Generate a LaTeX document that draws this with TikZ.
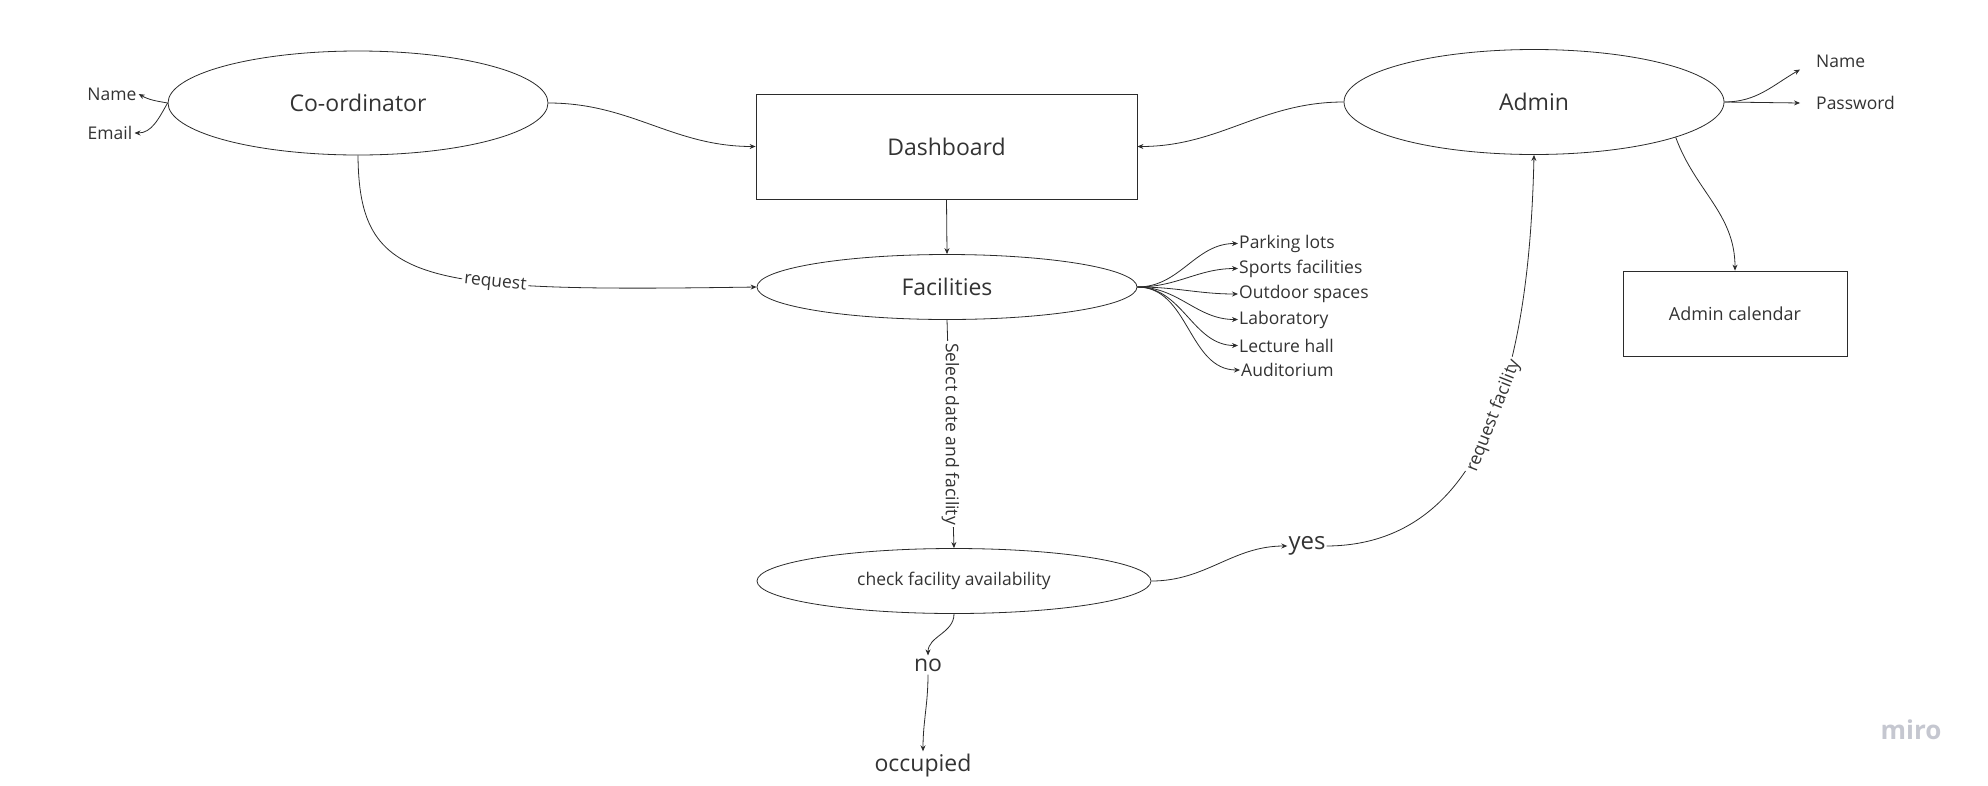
\documentclass[tikz,border=0pt]{standalone}
\usepackage{fontspec}
\setmainfont{Open Sans}
\usetikzlibrary{arrows.meta,shapes.geometric}
\definecolor{ln}{HTML}{2B2B2B}
\definecolor{tx}{HTML}{333333}
\definecolor{mirogray}{HTML}{C5C7D0}
\begin{document}
\begin{tikzpicture}[x=1pt,y=-1pt,
  every node/.style={text=tx},
  big/.style={font=\fontsize{23}{28}\selectfont},
  sm/.style={font=\fontsize{17.5}{21}\selectfont},
  ell/.style={draw=ln,line width=0.8pt,ellipse,inner sep=0pt},
  boxx/.style={draw=ln,line width=0.8pt,rectangle,inner sep=0pt},
  conn/.style={draw=ln,line width=0.8pt,-{Stealth[length=6pt,width=5pt]}},
  lab/.style={fill=white,inner sep=2pt,sm},
  item/.style={sm,anchor=west,inner xsep=1pt,inner ysep=0pt}
]
\useasboundingbox (0,0) rectangle (1988,785);

\node[ell,big,minimum width=380pt,minimum height=104pt] (co) at (358,103) {Co-ordinator};
\node[sm,inner sep=2pt] (cn) at (112,94) {Name};
\node[sm,inner sep=2pt] (ce) at (110,133) {Email};
\node[boxx,big,minimum width=381pt,minimum height=105pt] (db) at (946.5,146.5) {Dashboard};
\node[ell,big,minimum width=380pt,minimum height=105pt] (ad) at (1534,102) {Admin};
\node[sm,anchor=west,inner xsep=16pt,inner ysep=2pt] (an) at (1800,61) {Name};
\node[sm,anchor=west,inner xsep=16pt,inner ysep=2pt] (ap) at (1800,103) {Password};
\node[boxx,font=\fontsize{18}{22}\selectfont,minimum width=224pt,minimum height=85pt] (cal) at (1735,313.5) {Admin calendar};
\node[ell,big,minimum width=380pt,minimum height=65pt] (fac) at (947,287) {Facilities};
\node[item] (f1) at (1238,243.5) {Parking lots};
\node[item] (f2) at (1238,268.5) {Sports facilities};
\node[item] (f3) at (1238,294) {Outdoor spaces};
\node[item] (f4) at (1238,319.5) {Laboratory};
\node[item] (f5) at (1238,345.5) {Lecture hall};
\node[item] (f6) at (1240,370) {Auditorium};
\node[ell,font=\fontsize{17.5}{21}\selectfont,minimum width=394pt,minimum height=65pt] (chk) at (954,581) {check facility availability};
\node[inner sep=1pt,font=\fontsize{24}{28}\selectfont] (yes) at (1307,546) {yes};
\node[big,inner sep=3pt] (no) at (928,665) {no};
\node[big,inner sep=3pt] (occ) at (923,766) {occupied};
\node[font=\fontsize{26}{30}\selectfont\bfseries,text=mirogray] (mr) at (1911,730) {miro};

\draw[conn] (co.west) to[out=170,in=-30] (cn.east);
\draw[conn] (co.west) to[out=-120,in=0] (ce.east);
\draw[conn] (co.east) to[out=0,in=180] (db.west);
\draw[conn] (ad.west) to[out=180,in=0] (db.east);
\draw[conn] (ad.east) to[out=0,in=210] (an.south west);
\draw[conn] (ad.east) -- (ap.west);
\draw[conn] (ad.-14) to[out=-70,in=90] (cal.north);
\draw[conn] (db.south) -- (fac.north);
\draw[conn] (co.south) .. controls (359,285) and (420,292) .. node[lab,sloped,pos=0.65]{request} (fac.west);
\foreach \i in {f1,f2,f3,f4,f5,f6} \draw[conn] (fac.east) to[out=0,in=180] (\i.west);
\draw[conn] (fac.south) -- node[lab,rotate=-90]{Select date and facility} (chk.north);
\draw[conn] (chk.east) to[out=0,in=180] (yes.west);
\draw[conn] (yes.east) .. controls (1500,545) and (1530,330) .. node[lab,sloped]{request facility} (ad.south);
\draw[conn] (chk.south) to[out=-90,in=90] (no.north);
\draw[conn] (no.south) to[out=-90,in=90] (occ.north);
\end{tikzpicture}
\end{document}
